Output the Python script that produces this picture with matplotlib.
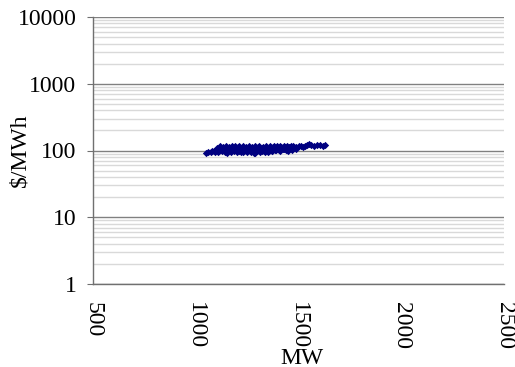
import matplotlib
matplotlib.use("Agg")
import matplotlib.pyplot as plt
from matplotlib.ticker import LogLocator, NullFormatter, FixedLocator

plt.rcParams['font.family'] = 'Liberation Serif'

mw = [1050, 1060, 1072, 1080, 1088, 1095, 1100, 1105, 1110, 1115, 1120, 1125, 1130,
      1135, 1140, 1145, 1150, 1155, 1160, 1165, 1170, 1175, 1180, 1185, 1190, 1195,
      1200, 1205, 1210, 1215, 1220, 1225, 1230, 1235, 1240, 1245, 1250, 1255, 1260,
      1265, 1270, 1275, 1280, 1285, 1290, 1295, 1300, 1305, 1310, 1315, 1320, 1325,
      1330, 1335, 1340, 1345, 1350, 1355, 1360, 1365, 1370, 1375, 1380, 1385, 1390,
      1395, 1400, 1405, 1410, 1415, 1420, 1425, 1430, 1435, 1440, 1445, 1450, 1455,
      1460, 1465, 1470, 1475, 1480, 1490, 1500, 1510, 1520, 1530, 1540, 1550, 1560,
      1575, 1590, 1605, 1620, 1630,
      1110, 1130, 1150, 1170, 1190, 1210, 1230, 1250, 1270, 1290, 1310, 1330, 1350,
      1370, 1390, 1410, 1430, 1450, 1470, 1490, 1120, 1160, 1200, 1240, 1280, 1320,
      1360, 1400, 1440, 1480]
price = [92, 95, 94, 97, 99, 96, 102, 110, 105, 98, 116, 108, 100,
         112, 95, 118, 104, 98, 114, 109, 96, 117, 103, 99, 115, 107,
         94, 112, 118, 101, 96, 109, 116, 98, 104, 113, 95, 110, 117,
         100, 97, 112, 106, 93, 115, 102, 99, 111, 117, 96, 108, 114,
         101, 95, 116, 110, 104, 98, 118, 107, 100, 113, 117, 103, 109,
         115, 106, 101, 118, 111, 108, 104, 116, 112, 110, 117, 107, 114,
         111, 118, 109, 115, 113, 112, 116, 118, 114, 117, 121, 126, 119,
         118, 120, 119, 117, 119,
         96, 103, 93, 100, 104, 97, 94, 100, 95, 92, 103, 98, 94,
         99, 101, 97, 104, 100, 103, 107, 109, 107, 106, 108, 104, 99,
         106, 110, 101, 108]

x_ticks = [500, 1000, 1500, 2000, 2500]
y_ticks = [1, 10, 100, 1000, 10000]

fig = plt.figure(figsize=(5.15, 3.67), dpi=100)
ax = fig.add_axes([93/515, 1-284/367, (504-93)/515, (284-17)/367])
ax.set_yscale('log')
ax.set_xlim(500, 2500)
ax.set_ylim(1, 10000)

ax.yaxis.set_major_locator(FixedLocator(y_ticks))
ax.yaxis.set_minor_locator(LogLocator(base=10, subs=range(2, 10)))
ax.yaxis.set_minor_formatter(NullFormatter())
ax.set_yticklabels([str(v) for v in y_ticks], family='Liberation Serif')
ax.set_xticks(x_ticks)
ax.set_xticklabels([str(v) for v in x_ticks], rotation=-90, family='Liberation Serif')

ax.grid(True, which='minor', axis='y', color='#d9d9d9', linewidth=1.0)
ax.grid(True, which='major', axis='y', color='#808080', linewidth=1.0)
ax.set_axisbelow(True)

for s in ['top', 'right']:
    ax.spines[s].set_visible(False)
for s in ['left', 'bottom']:
    ax.spines[s].set_color('#707070')
    ax.spines[s].set_linewidth(1.0)

ax.tick_params(axis='y', which='major', length=4, color='#707070', pad=8, labelsize=17)
ax.tick_params(axis='y', which='minor', length=0)
ax.tick_params(axis='x', which='both', length=0, pad=13, labelsize=17)

ax.scatter(mw, price, marker='D', s=14, color='#000080', linewidths=0, zorder=3)

ax.set_xlabel('MW', fontsize=17, va='center', family='Liberation Serif')
ax.xaxis.set_label_coords((302-93)/411, (284-358)/267)
ax.set_ylabel('$/MWh', fontsize=17, va='center', family='Liberation Serif')
ax.yaxis.set_label_coords((20-93)/411, (284-150)/267)

fig.savefig('out.png', dpi=100)
